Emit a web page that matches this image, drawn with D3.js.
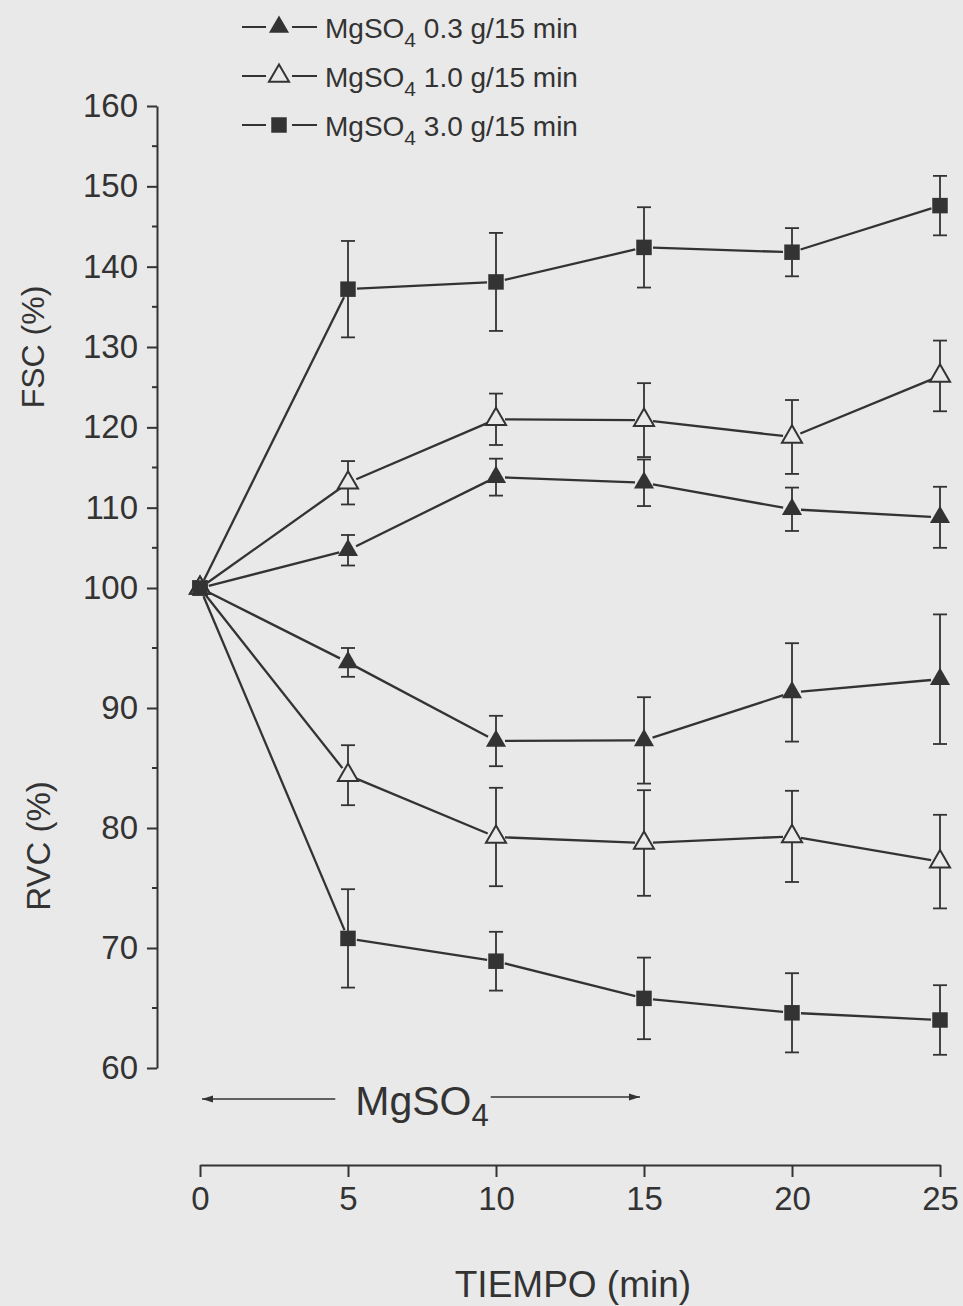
<!DOCTYPE html>
<html>
<head>
<meta charset="utf-8">
<script src="https://cdn.jsdelivr.net/npm/d3@7"></script>
<style>
  html, body { margin: 0; padding: 0; background: #e9e9e9; }
  svg { display: block; }
</style>
</head>
<body>
<div id="chart"></div>
<script>
// time points (min)
const times = [0, 5, 10, 15, 20, 25]

// FSC (%) means and SE for each MgSO4 dose
const fsc03 = [100, 104.7, 113.8, 113.1, 109.8, 108.8]
const fsc03Err = [0, 1.9, 2.3, 2.9, 2.7, 3.8]
const fsc10 = [100, 113.1, 121.0, 120.9, 118.8, 126.4]
const fsc10Err = [0, 2.7, 3.2, 4.6, 4.6, 4.4]
const fsc30 = [100, 137.2, 138.1, 142.4, 141.8, 147.6]
const fsc30Err = [0, 6.0, 6.1, 5.0, 3.0, 3.7]

// RVC (%) means and SE
const rvc03 = [100, 93.8, 87.25, 87.3, 91.3, 92.4]
const rvc03Err = [0, 1.2, 2.1, 3.6, 4.1, 5.4]
const rvc10 = [100, 84.4, 79.25, 78.75, 79.3, 77.2]
const rvc10Err = [0, 2.5, 4.1, 4.4, 3.8, 3.9]
const rvc30 = [100, 70.8, 68.9, 65.8, 64.6, 64.0]
const rvc30Err = [0, 4.1, 2.45, 3.4, 3.3, 2.9]

const doses = ['0.3', '1.0', '3.0']
const yTicks = [60, 70, 80, 90, 100, 110, 120, 130, 140, 150, 160]
const yMinor = [65, 75, 85, 95, 105, 115, 125, 135, 145, 155]
const xTicks = [0, 5, 10, 15, 20, 25]

const ink = '#333'
const bg = '#e9e9e9'
const font = '"Liberation Sans", Arial, sans-serif'

const width = 963
const height = 1306

const svg = d3.select('#chart')
  .append('svg')
  .attr('width', width)
  .attr('height', height)
  .style('font-family', font)

svg.append('rect')
  .attr('width', width)
  .attr('height', height)
  .attr('fill', bg)

// y is split: RVC half (60-100) is stretched more than FSC half (100-160)
const y = d3.scaleLinear()
  .domain([60, 100, 160])
  .range([1068, 588, 106])

const x = d3.scaleLinear()
  .domain([0, 25])
  .range([200, 940])

const axisX = 157
const axisY = 1165

// y axis
const yAxis = svg.append('g')
  .attr('transform', `translate(${axisX},0)`)
  .call(d3.axisLeft(y).tickValues(yTicks).tickSize(10).tickSizeOuter(0).tickPadding(9))

yAxis.select('.domain').attr('stroke', ink).attr('stroke-width', 2)
yAxis.selectAll('.tick line').attr('stroke', ink).attr('stroke-width', 2)
yAxis.selectAll('.tick text')
  .attr('fill', ink)
  .style('font-family', font)
  .style('font-size', '33px')

yAxis.selectAll('.minor')
  .data(yMinor)
  .enter().append('line')
  .attr('class', 'minor')
  .attr('x1', -5)
  .attr('x2', 0)
  .attr('y1', d => y(d))
  .attr('y2', d => y(d))
  .attr('stroke', ink)
  .attr('stroke-width', 2)

// x axis, drawn detached below the plot
const xAxis = svg.append('g')
  .attr('transform', `translate(0,${axisY})`)
  .call(d3.axisBottom(x).tickValues(xTicks).tickSize(12).tickSizeOuter(0).tickPadding(10))

xAxis.select('.domain').attr('stroke', ink).attr('stroke-width', 2)
xAxis.selectAll('.tick line').attr('stroke', ink).attr('stroke-width', 2)
xAxis.selectAll('.tick text')
  .attr('fill', ink)
  .style('font-family', font)
  .style('font-size', '33px')

// axis titles
svg.append('text')
  .attr('x', x(12.6))
  .attr('y', 1297)
  .attr('text-anchor', 'middle')
  .attr('fill', ink)
  .style('font-size', '37px')
  .text('TIEMPO (min)')

svg.append('text')
  .attr('transform', `translate(44,${y(130)}) rotate(-90)`)
  .attr('text-anchor', 'middle')
  .attr('fill', ink)
  .style('font-size', '32px')
  .text('FSC (%)')

svg.append('text')
  .attr('transform', `translate(50,${y(78.5)}) rotate(-90)`)
  .attr('text-anchor', 'middle')
  .attr('fill', ink)
  .style('font-size', '33px')
  .text('RVC (%)')

// series: each dose has an FSC curve and an RVC curve
const shapes = ['triFilled', 'triOpen', 'square']
const series = [
  { shape: 'triFilled', values: fsc03, errs: fsc03Err },
  { shape: 'triOpen', values: fsc10, errs: fsc10Err },
  { shape: 'square', values: fsc30, errs: fsc30Err },
  { shape: 'triFilled', values: rvc03, errs: rvc03Err },
  { shape: 'triOpen', values: rvc10, errs: rvc10Err },
  { shape: 'square', values: rvc30, errs: rvc30Err }
].map(s => ({
  ...s,
  points: times.map((t, i) => ({ t, v: s.values[i], e: s.errs[i] }))
}))

const triangle = d3.symbol().type(d3.symbolTriangle).size(175)
const square = d3.symbol().type(d3.symbolSquare).size(240)

const drawMarker = (g, shape) => {
  if (shape === 'square') {
    g.append('path').attr('d', square()).attr('fill', ink)
  } else if (shape === 'triFilled') {
    g.append('path').attr('d', triangle()).attr('fill', ink)
  } else {
    g.append('path').attr('d', triangle())
      .attr('fill', bg)
      .attr('stroke', ink)
      .attr('stroke-width', 2)
  }
}

// error bars
const cap = 7
series.forEach(s => {
  const eg = svg.append('g').attr('class', 'errbars')
  s.points.filter(p => p.e > 0).forEach(p => {
    const px = x(p.t)
    const top = y(p.v + p.e)
    const bot = y(p.v - p.e)
    eg.append('line')
      .attr('x1', px).attr('x2', px)
      .attr('y1', top).attr('y2', bot)
      .attr('stroke', ink).attr('stroke-width', 1.8)
    eg.append('line')
      .attr('x1', px - cap).attr('x2', px + cap)
      .attr('y1', top).attr('y2', top)
      .attr('stroke', ink).attr('stroke-width', 1.8)
    eg.append('line')
      .attr('x1', px - cap).attr('x2', px + cap)
      .attr('y1', bot).attr('y2', bot)
      .attr('stroke', ink).attr('stroke-width', 1.8)
  })
})

// connecting segments, stopped just short of the markers
const gap = 9
series.forEach(s => {
  const lg = svg.append('g').attr('class', 'segments')
  d3.pairs(s.points).forEach(([a, b]) => {
    const x1 = x(a.t); const y1 = y(a.v)
    const x2 = x(b.t); const y2 = y(b.v)
    const len = Math.hypot(x2 - x1, y2 - y1)
    const ux = (x2 - x1) / len
    const uy = (y2 - y1) / len
    lg.append('line')
      .attr('x1', x1 + ux * gap).attr('y1', y1 + uy * gap)
      .attr('x2', x2 - ux * gap).attr('y2', y2 - uy * gap)
      .attr('stroke', ink)
      .attr('stroke-width', 2.3)
  })
})

// markers
series.forEach(s => {
  svg.append('g').selectAll('.marker')
    .data(s.points)
    .enter().append('g')
    .attr('class', 'marker')
    .attr('transform', d => `translate(${x(d.t)},${y(d.v)})`)
    .each(function () { drawMarker(d3.select(this), s.shape) })
})

// legend
const legend = svg.selectAll('.legend')
  .data(doses)
  .enter().append('g')
  .attr('class', 'legend')
  .attr('transform', (_, i) => `translate(0,${27 + i * 49})`)

legend.append('line')
  .attr('x1', 242).attr('x2', 317)
  .attr('y1', 0).attr('y2', 0)
  .attr('stroke', ink)
  .attr('stroke-width', 2)

legend.append('g')
  .attr('transform', 'translate(279,0)')
  .each(function (_, i) {
    const g = d3.select(this)
    g.append('rect').attr('x', -13).attr('y', -11).attr('width', 26).attr('height', 22).attr('fill', bg)
    drawMarker(g, shapes[i])
  })

const legendText = legend.append('text')
  .attr('x', 325)
  .attr('y', 11)
  .attr('fill', ink)
  .style('font-size', '28px')

legendText.append('tspan').text('MgSO')
legendText.append('tspan').attr('dy', 9).style('font-size', '21px').text('4')
legendText.append('tspan').attr('dy', -9).text(d => ` ${d} g/15 min`)

// MgSO4 infusion period marker
const infusion = svg.append('g').attr('class', 'infusion')
const label = infusion.append('text')
  .attr('x', x(7.5))
  .attr('y', 1115)
  .attr('text-anchor', 'middle')
  .attr('fill', ink)
  .style('font-size', '41px')
label.append('tspan').text('MgSO')
label.append('tspan').attr('dy', 11).style('font-size', '31px').text('4')

const box = label.node().getBBox()
const arrowY = 1099
const head = (px, dir) => `M${px},${arrowY}l${-dir * 11},-3.5l0,7z`

infusion.append('line')
  .attr('x1', x(0) + 2).attr('x2', box.x - 20)
  .attr('y1', arrowY).attr('y2', arrowY)
  .attr('stroke', ink).attr('stroke-width', 1.6)
infusion.append('path').attr('d', head(x(0) + 2, -1)).attr('fill', ink)

infusion.append('line')
  .attr('x1', box.x + box.width + 2).attr('x2', x(15) - 4)
  .attr('y1', arrowY - 2).attr('y2', arrowY - 2)
  .attr('stroke', ink).attr('stroke-width', 1.6)
infusion.append('path').attr('d', `M${x(15) - 4},${arrowY - 2}l-11,-3.5l0,7z`).attr('fill', ink)
</script>
</body>
</html>
